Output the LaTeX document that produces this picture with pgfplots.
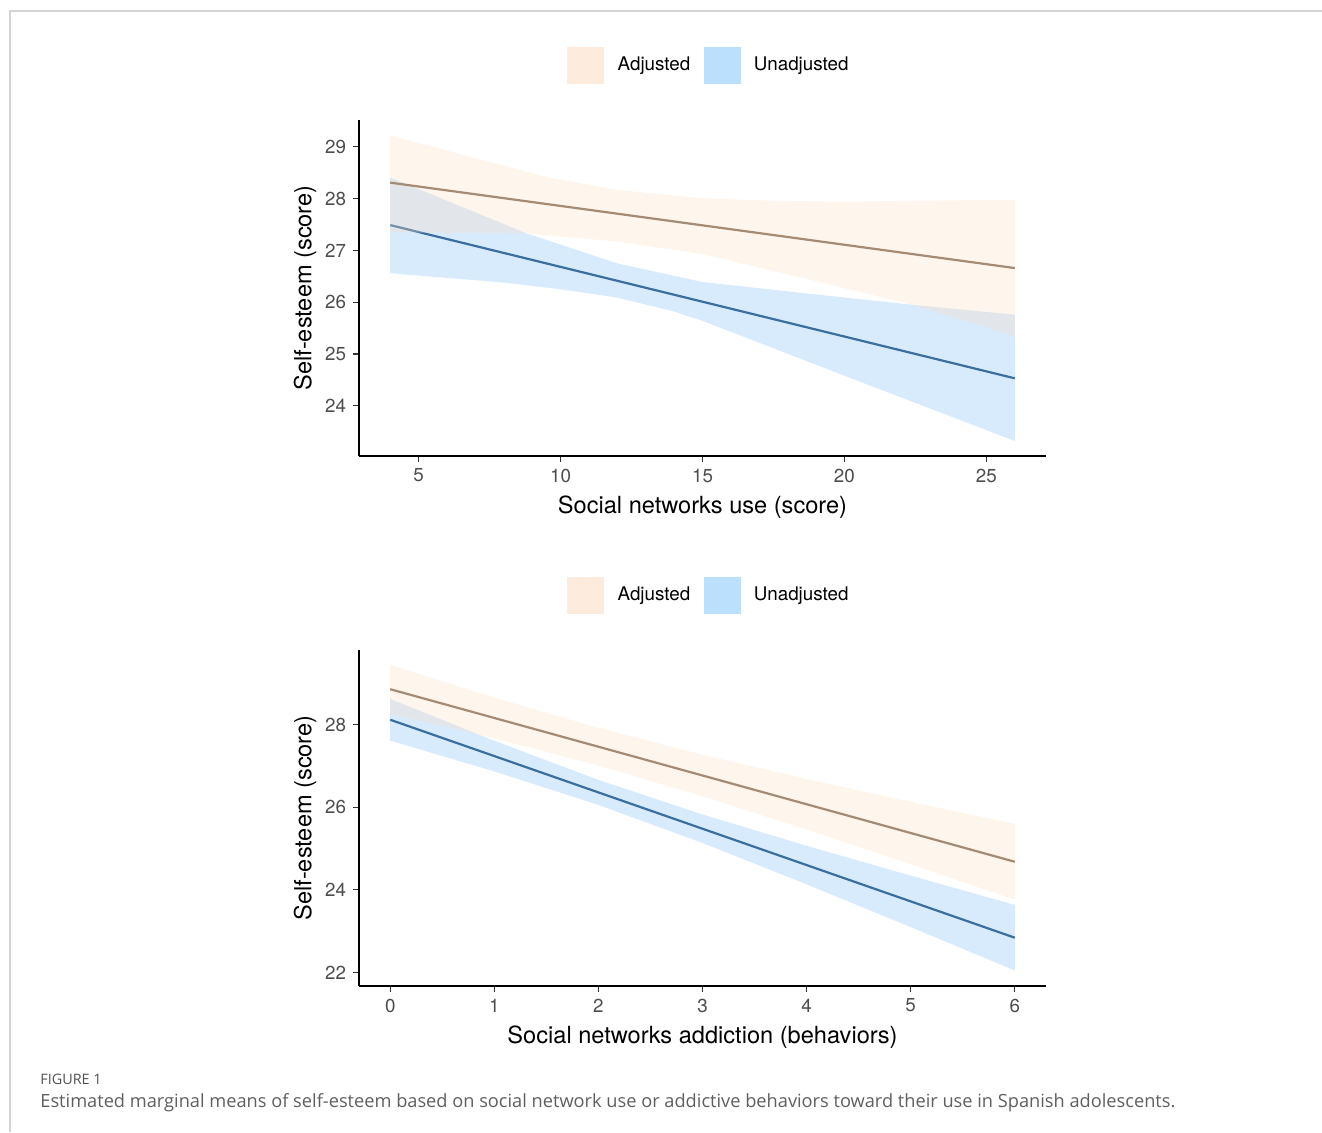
\documentclass[border=0pt]{standalone}
\usepackage{fontspec}
\setmainfont{TeX Gyre Heros}
\newfontfamily\capfont{Open Sans}
\usepackage{graphicx}
\usepackage{pgfplots}
\pgfplotsset{compat=1.18}

\definecolor{bandO}{RGB}{251,222,195}
\definecolor{bandB}{RGB}{125,188,245}
\definecolor{lineO}{RGB}{165,139,116}
\definecolor{lineB}{RGB}{58,110,158}
\definecolor{keyO}{RGB}{253,236,222}
\definecolor{keyB}{RGB}{187,224,253}
\definecolor{tickgray}{RGB}{77,77,77}
\definecolor{tickmark}{RGB}{51,51,51}
\definecolor{framegray}{RGB}{212,212,212}
\definecolor{capgray}{RGB}{95,95,95}

\pgfplotsset{panel/.style={
  scale only axis, width=343.5pt, height=168pt,
  axis x line*=bottom, axis y line*=left,
  axis line style={black, line width=1pt, -},
  tick style={tickmark, line width=0.55pt},
  major tick length=2.9pt, tick align=outside,
  ticklabel style={font=\fontsize{9.4}{11}\selectfont, text=tickgray},
  /pgf/number format/assume math mode=true,
  every axis x label/.style={at={(axis description cs:0.5,-0.152)}, anchor=center, font=\fontsize{11.8}{14}\selectfont},
  every axis y label/.style={at={(axis description cs:-0.0786,0.5)}, rotate=90, anchor=center, font=\fontsize{11.8}{14}\selectfont},
  legend style={at={(axis description cs:0.508,1.162)}, anchor=center, draw=none, fill=none,
    font=\fontsize{9.4}{11}\selectfont, column sep=6.7pt, inner sep=0pt,
    nodes={inner sep=0pt}},
  legend columns=2,
  bandB/.style={draw=none, fill=bandB, fill opacity=0.3, forget plot},
  bandO/.style={draw=none, fill=bandO, fill opacity=0.3, forget plot},
  lnB/.style={lineB, line width=1.1pt, no marks, forget plot},
  lnO/.style={lineO, line width=1.1pt, no marks, forget plot},
}}

\begin{document}
\begin{tikzpicture}
\path[use as bounding box] (0pt,0pt) rectangle (661pt,566pt);
\draw[framegray, line width=0.6pt] (5pt,0pt) -- (5pt,560.5pt) -- (661pt,560.5pt);

% ---------- top panel ----------
\begin{axis}[panel, at={(179.5pt,338pt)}, anchor=south west,
  xmin=2.9, xmax=27.1, ymin=23.03, ymax=29.52,
  xtick={5,10,15,20,25}, ytick={24,25,26,27,28,29},
  xlabel={Social networks use (score)}, ylabel={Self-esteem (score)}]
\addlegendimage{legend image code/.code={\fill[keyO] (0pt,-9pt) rectangle (18pt,9pt);}}
\addlegendentry{Adjusted}
\addlegendimage{legend image code/.code={\fill[keyB] (0pt,-9pt) rectangle (18pt,9pt);}}
\addlegendentry{Unadjusted}
% Unadjusted band
\addplot[bandB] coordinates {(4,28.41) (8.8,27.33) (12,26.75) (15,26.39) (18.5,26.18) (22.4,25.95) (26,25.76)
  (26,23.32) (20,24.58) (15,25.64) (14,25.82) (12,26.09) (10,26.25) (8,26.38) (4,26.56)} -- cycle;
\addplot[lnB] coordinates {(4,27.49) (26,24.53)};
% Adjusted band
\addplot[bandO] coordinates {(4,29.22) (6,28.93) (8,28.64) (9.7,28.40) (12,28.17) (15,28.01) (17.5,27.96) (20,27.94) (22.4,27.96) (26,27.98)
  (26,25.34) (22.4,25.95) (18.5,26.47) (15,26.93) (12,27.17) (8.8,27.33) (4,27.35)} -- cycle;
\addplot[lnO] coordinates {(4,28.31) (26,26.66)};
\end{axis}

% ---------- bottom panel ----------
\begin{axis}[panel, at={(179.5pt,73pt)}, anchor=south west,
  xmin=-0.3, xmax=6.3, ymin=21.67, ymax=29.81,
  xtick={0,1,2,3,4,5,6}, ytick={22,24,26,28},
  xlabel={Social networks addiction (behaviors)}, ylabel={Self-esteem (score)}]
\addlegendimage{legend image code/.code={\fill[keyO] (0pt,-9pt) rectangle (18pt,9pt);}}
\addlegendentry{Adjusted}
\addlegendimage{legend image code/.code={\fill[keyB] (0pt,-9pt) rectangle (18pt,9pt);}}
\addlegendentry{Unadjusted}
\addplot[bandB] coordinates {(0,28.625) (1,27.611) (2,26.663) (3,25.825) (4,25.067) (5,24.344) (6,23.635)
  (6,22.045) (5,23.096) (4,24.133) (3,25.135) (2,26.057) (1,26.869) (0,27.615)} -- cycle;
\addplot[lnB] coordinates {(0,28.12) (6,22.84)};
\addplot[bandO] coordinates {(0,29.455) (1,28.657) (2,27.927) (3,27.275) (4,26.686) (5,26.134) (6,25.600)
  (6,23.760) (5,24.620) (4,25.460) (3,26.265) (2,27.007) (1,27.669) (0,28.265)} -- cycle;
\addplot[lnO] coordinates {(0,28.86) (6,24.68)};
\end{axis}

% ---------- caption ----------
\node[anchor=base west, inner sep=0pt, text=capgray!85!black] at (20pt,24pt)
  {\capfont\fontsize{7.2}{8}\selectfont FIGURE 1};
\node[anchor=base west, inner sep=0pt, text=capgray] at (20pt,12.5pt)
  {\resizebox{567.5pt}{!}{\capfont\fontsize{9}{11}\selectfont Estimated marginal means of self-esteem based on social network use or addictive behaviors toward their use in Spanish adolescents.}};
\end{tikzpicture}
\end{document}
